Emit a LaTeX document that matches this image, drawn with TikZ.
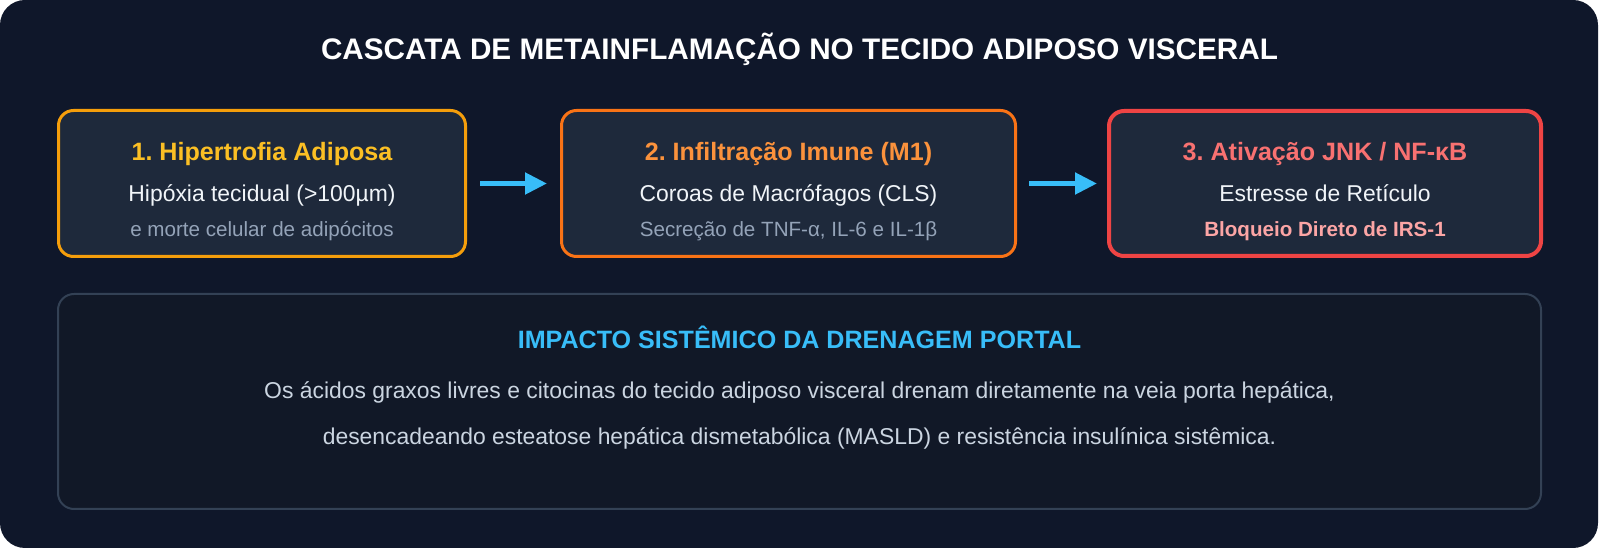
\documentclass[tikz,border=0pt]{standalone}
\usepackage{fontspec}
\setmainfont{Liberation Sans}
\usetikzlibrary{arrows.meta}
\definecolor{bg}{HTML}{0F172A}
\definecolor{boxfill}{HTML}{1E293B}
\definecolor{bfill}{HTML}{111827}
\definecolor{bline}{HTML}{334155}
\definecolor{cA}{HTML}{F59E0B}
\definecolor{tA}{HTML}{FBBF24}
\definecolor{cB}{HTML}{F97316}
\definecolor{tB}{HTML}{FB923C}
\definecolor{cC}{HTML}{EF4444}
\definecolor{tC}{HTML}{F87171}
\definecolor{tCC}{HTML}{FCA5A5}
\definecolor{wtext}{HTML}{F1F5F9}
\definecolor{gtext}{HTML}{94A3B8}
\definecolor{sky}{HTML}{38BDF8}
\definecolor{body}{HTML}{CBD5E1}
\tikzset{
  stepbox/.style={rounded corners=7.5pt, fill=boxfill, inner sep=0pt, minimum height=73pt},
  ttl/.style={anchor=base, inner sep=0pt, font=\fontsize{12.55pt}{15pt}\selectfont\bfseries},
  lineA/.style={anchor=base, inner sep=0pt, text=wtext, font=\fontsize{11.45pt}{14pt}\selectfont},
  lineB/.style={anchor=base, inner sep=0pt, text=gtext, font=\fontsize{10.3pt}{12pt}\selectfont},
  flow/.style={draw=sky, line width=2.5pt, -{Triangle[length=11pt,width=10.5pt]}},
  bodytxt/.style={anchor=base, inner sep=0pt, text=body, font=\fontsize{11.45pt}{14pt}\selectfont},
}
\frenchspacing
\begin{document}
\begin{tikzpicture}[x=0.5pt,y=-0.5pt]
\useasboundingbox (0,0) rectangle (1600,549);
\fill[white] (0,0) rectangle (1600,549);
\fill[bg, rounded corners=12.5pt] (0,0) rectangle (1598,548);

\node[anchor=base, inner sep=0pt, text=white, font=\fontsize{14.85pt}{18pt}\selectfont\bfseries] (title) at (799.5,59.6) {CASCATA DE METAINFLAMAÇÃO NO TECIDO ADIPOSO VISCERAL};

\node[stepbox, draw=cA, line width=1.5pt, minimum width=203.5pt] (b1) at (262,183.5) {};
\node[stepbox, draw=cB, line width=1.5pt, minimum width=227pt] (b2) at (788.5,183.5) {};
\node[stepbox, draw=cC, line width=2pt, minimum width=216pt, minimum height=72.5pt] (b3) at (1325,183.5) {};

\node[ttl, text=tA] (t1) at (262,161) {1. Hipertrofia Adiposa};
\node[lineA] (l1a) at (262,201.8) {Hipóxia tecidual (>100µm)};
\node[lineB] (l1b) at (262,237) {e morte celular de adipócitos};

\node[ttl, text=tB] (t2) at (788.5,161) {2. Infiltração Imune (M1)};
\node[lineA] (l2a) at (788.5,201.8) {Coroas de Macrófagos (CLS)};
\node[lineB] (l2b) at (788.5,237) {Secreção de TNF-α, IL-6 e IL-1β};

\node[ttl, text=tC] (t3) at (1325,161) {3. Ativação JNK / NF-κB};
\node[lineA] (l3a) at (1325,201.8) {Estresse de Retículo};
\node[lineB, text=tCC, font=\fontsize{10.3pt}{12pt}\selectfont\bfseries] (l3b) at (1325,237) {Bloqueio Direto de IRS-1};

\draw[flow] ([xshift=6.5pt]b1.east) -- ([xshift=-6.5pt]b2.west);
\draw[flow] ([xshift=6pt]b2.east) -- ([xshift=-5pt]b3.west);

\node[rounded corners=8pt, fill=bfill, draw=bline, line width=1pt, inner sep=0pt, minimum width=741.5pt, minimum height=107.5pt] (imp) at (799.5,401.5) {};
\node[ttl, text=sky] (t4) at (799.5,349) {IMPACTO SISTÊMICO DA DRENAGEM PORTAL};
\node[bodytxt] (p1) at (799.5,398.2) {Os ácidos graxos livres e citocinas do tecido adiposo visceral drenam diretamente na veia porta hepática,};
\node[bodytxt] (p2) at (799.5,444.2) {desencadeando esteatose hepática dismetabólica (MASLD) e resistência insulínica sistêmica.};
\end{tikzpicture}
\end{document}
